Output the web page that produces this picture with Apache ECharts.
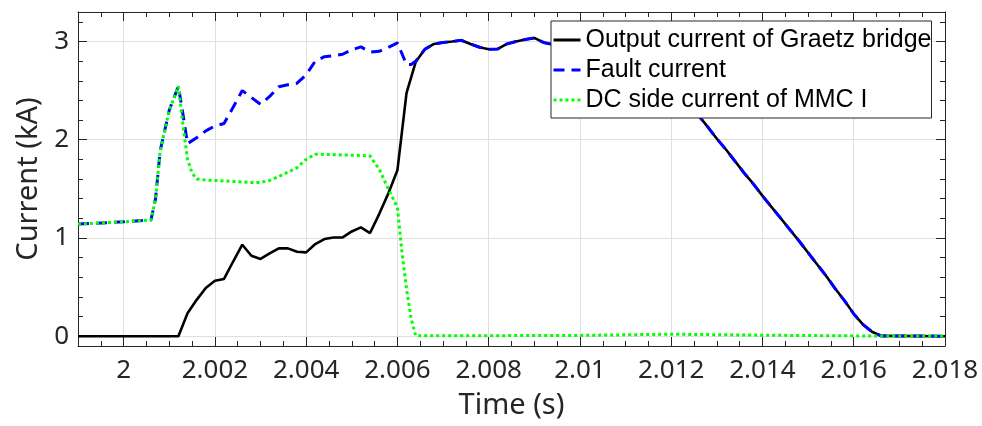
<!DOCTYPE html>
<html>
<head>
<meta charset="utf-8">
<script src="https://cdn.jsdelivr.net/npm/echarts@6/dist/echarts.min.js"></script>
<style>
  html, body { margin: 0; padding: 0; background: #fff; }
  #chart { width: 982px; height: 426px; }
</style>
</head>
<body>
<div id="chart"></div>
<script>
// Series names shown in the legend
const seriesNames = [
  'Output current of Graetz bridge',
  'Fault current',
  'DC side current of MMC I'
];

// Output current of the Graetz bridge (kA) vs time (s)
const graetzTime = [
  1.999, 2.0012, 2.0014, 2.0016, 2.0018, 2.002, 2.0022, 2.0024, 2.0026, 2.0028,
  2.003, 2.0032, 2.0034, 2.0036, 2.0038, 2.004, 2.0042, 2.0044, 2.0046, 2.0048,
  2.005, 2.0052, 2.0054, 2.0056, 2.0058, 2.006, 2.0062, 2.0064, 2.0066, 2.0068,
  2.007, 2.0072, 2.0074, 2.0076, 2.0078, 2.008, 2.0082, 2.0084, 2.0086, 2.0088,
  2.009, 2.0092, 2.0094, 2.0096, 2.0098, 2.01, 2.0102, 2.0104, 2.0106, 2.0108,
  2.011, 2.0112, 2.0114, 2.0116, 2.0118, 2.012, 2.0122, 2.0124, 2.0126, 2.0128,
  2.013, 2.0132, 2.0134, 2.0136, 2.0138, 2.014, 2.0142, 2.0144, 2.0146, 2.0148,
  2.015, 2.0152, 2.0154, 2.0156, 2.0158, 2.016, 2.0162, 2.0164, 2.0166, 2.018
];
const graetzCurrent = [
  0, 0, 0.234, 0.37, 0.49, 0.565, 0.583, 0.76, 0.931, 0.819,
  0.786, 0.843, 0.894, 0.894, 0.86, 0.853, 0.938, 0.989, 1.005, 1.005,
  1.066, 1.107, 1.05, 1.243, 1.452, 1.69, 2.477, 2.79, 2.92, 2.975,
  2.99, 3.0, 3.012, 2.975, 2.941, 2.921, 2.924, 2.975, 3.0, 3.02,
  3.036, 2.99, 2.97, 2.96, 2.96, 2.96, 2.96, 2.95, 2.94, 2.92,
  2.89, 2.85, 2.8, 2.74, 2.66, 2.57, 2.47, 2.36, 2.246, 2.13,
  2.01, 1.9, 1.78, 1.66, 1.55, 1.428, 1.314, 1.2, 1.085, 0.97,
  0.85, 0.73, 0.61, 0.48, 0.36, 0.227, 0.12, 0.045, 0.003, 0
];

// Fault current (kA) vs time (s)
const faultTime = [
  1.999, 2.0, 2.0006, 2.0007, 2.0008, 2.001, 2.0012, 2.0013, 2.0014, 2.0016,
  2.0018, 2.002, 2.0022, 2.0024, 2.0026, 2.0028, 2.003, 2.0032, 2.0034, 2.0036,
  2.0038, 2.004, 2.0042, 2.0044, 2.0046, 2.0048, 2.005, 2.0052, 2.0054, 2.0056,
  2.0058, 2.006, 2.0062, 2.0063, 2.0064, 2.0066, 2.0068, 2.007, 2.0072, 2.0074,
  2.0076, 2.0078, 2.008, 2.0082, 2.0084, 2.0086, 2.0088, 2.009, 2.0092, 2.0094,
  2.0096, 2.0098, 2.01, 2.0102, 2.0104, 2.0106, 2.0108, 2.011, 2.0112, 2.0114,
  2.0116, 2.0118, 2.012, 2.0122, 2.0124, 2.0126, 2.0128, 2.013, 2.0132, 2.0134,
  2.0136, 2.0138, 2.014, 2.0142, 2.0144, 2.0146, 2.0148, 2.015, 2.0152, 2.0154,
  2.0156, 2.0158, 2.016, 2.0162, 2.0164, 2.0166, 2.018
];
const faultCurrent = [
  1.141, 1.164, 1.182, 1.40, 1.885, 2.3, 2.545, 2.26, 1.96, 2.02,
  2.09, 2.14, 2.165, 2.33, 2.5, 2.43, 2.36, 2.44, 2.54, 2.56,
  2.575, 2.66, 2.8, 2.845, 2.855, 2.87, 2.915, 2.945, 2.893, 2.9,
  2.94, 2.985, 2.765, 2.765, 2.8, 2.92, 2.975, 2.99, 3.0, 3.012,
  2.975, 2.941, 2.921, 2.924, 2.975, 3.0, 3.02, 3.036, 2.99, 2.97,
  2.96, 2.96, 2.96, 2.96, 2.95, 2.94, 2.92, 2.89, 2.85, 2.8,
  2.74, 2.66, 2.57, 2.47, 2.36, 2.246, 2.13, 2.01, 1.9, 1.78,
  1.66, 1.55, 1.428, 1.314, 1.2, 1.085, 0.97, 0.85, 0.73, 0.61,
  0.48, 0.36, 0.227, 0.12, 0.045, 0.003, 0
];

// DC side current of MMC I (kA) vs time (s)
const mmcTime = [
  1.999, 2.0, 2.0006, 2.0007, 2.0008, 2.001, 2.0012, 2.0013, 2.0014, 2.0015,
  2.0016, 2.0018, 2.002, 2.0022, 2.0024, 2.0026, 2.0028, 2.003, 2.0032, 2.0034,
  2.0036, 2.0038, 2.004, 2.0042, 2.0044, 2.0046, 2.0048, 2.005, 2.0052, 2.0054,
  2.0056, 2.0058, 2.006, 2.0061, 2.0062, 2.0063, 2.0064, 2.008, 2.01, 2.012,
  2.014, 2.016, 2.018
];
const mmcCurrent = [
  1.141, 1.164, 1.182, 1.40, 1.885, 2.3, 2.545, 2.15, 1.8, 1.66,
  1.6, 1.59, 1.585, 1.58, 1.575, 1.57, 1.565, 1.565, 1.585, 1.625,
  1.67, 1.715, 1.8, 1.852, 1.85, 1.848, 1.845, 1.842, 1.84, 1.835,
  1.70, 1.5, 1.31, 0.85, 0.48, 0.18, 0.005, 0.005, 0.008, 0.02,
  0.01, 0.003, 0.003
];

// Axis ranges
const timeRange = [1.999, 2.018];
const currentRange = [-0.1, 3.3];

const pairs = (xs, ys) => xs.map((x, i) => [x, ys[i]]);

const axisColor = '#262626';
const labelFont = 'Noto Sans';

function boxAxis(pos, isX) {
  const range = isX ? timeRange : currentRange;
  return {
    type: 'value',
    position: pos,
    min: range[0],
    max: range[1],
    splitNumber: isX ? 9 : 4,
    axisLine: { show: true, onZero: false, lineStyle: { color: axisColor, width: 1 } },
    axisTick: { show: true, inside: true, length: 9, lineStyle: { color: axisColor, width: 1 } },
    minorTick: { show: true, splitNumber: isX ? 4 : 5, length: 5, lineStyle: { color: axisColor, width: 1 } },
    axisLabel: { show: false },
    splitLine: { show: false }
  };
}

const xMain = Object.assign(boxAxis('bottom', true), {
  name: 'Time (s)',
  nameLocation: 'middle',
  nameGap: 45,
  nameTextStyle: { fontFamily: labelFont, fontSize: 29, color: axisColor },
  axisLabel: {
    show: true, margin: 12, fontFamily: labelFont, fontSize: 26, color: axisColor,
    showMinLabel: false, showMaxLabel: true,
    formatter: v => String(+v.toFixed(4))
  },
  splitLine: { show: true, lineStyle: { color: '#dfdfdf', width: 1 } }
});

const yMain = Object.assign(boxAxis('left', false), {
  name: 'Current (kA)',
  nameLocation: 'middle',
  nameGap: 33,
  nameRotate: 90,
  nameTextStyle: { fontFamily: labelFont, fontSize: 29, color: axisColor },
  axisLabel: {
    show: true, margin: 9, fontFamily: labelFont, fontSize: 26, color: axisColor,
    showMinLabel: false, showMaxLabel: false,
    formatter: v => String(+v.toFixed(2))
  },
  splitLine: { show: true, lineStyle: { color: '#dfdfdf', width: 1 } }
});

const chart = echarts.init(document.getElementById('chart'), null, { renderer: 'canvas' });

chart.setOption({
  animation: false,
  backgroundColor: '#ffffff',
  grid: { left: 78, right: 37, top: 12, bottom: 80, containLabel: false },
  xAxis: [xMain, boxAxis('top', true)],
  yAxis: [yMain, boxAxis('right', false)],
  legend: {
    show: true,
    orient: 'vertical',
    left: 551,
    top: 21,
    padding: [4, 0, 3, 1],
    itemGap: 0,
    itemWidth: 27,
    itemHeight: 14,
    backgroundColor: '#ffffff',
    borderColor: axisColor,
    borderWidth: 1,
    borderRadius: 0,
    itemStyle: { opacity: 0 },
    lineStyle: { width: 3 },
    textStyle: { fontFamily: 'Liberation Sans', fontSize: 25, color: '#000', lineHeight: 30 },
    data: seriesNames
  },
  series: [
    {
      name: seriesNames[0],
      type: 'line',
      data: pairs(graetzTime, graetzCurrent),
      symbol: 'none',
      showSymbol: false,
      lineStyle: { color: '#000000', width: 2.6 },
      itemStyle: { color: '#000000' }
    },
    {
      name: seriesNames[1],
      type: 'line',
      data: pairs(faultTime, faultCurrent),
      symbol: 'none',
      showSymbol: false,
      lineStyle: { color: '#0000ff', width: 3, type: [11, 7], cap: 'butt' },
      itemStyle: { color: '#0000ff' }
    },
    {
      name: seriesNames[2],
      type: 'line',
      data: pairs(mmcTime, mmcCurrent),
      symbol: 'none',
      showSymbol: false,
      lineStyle: { color: '#00ff00', width: 3, type: [3, 3], cap: 'butt' },
      itemStyle: { color: '#00ff00' }
    }
  ]
});
</script>
</body>
</html>
